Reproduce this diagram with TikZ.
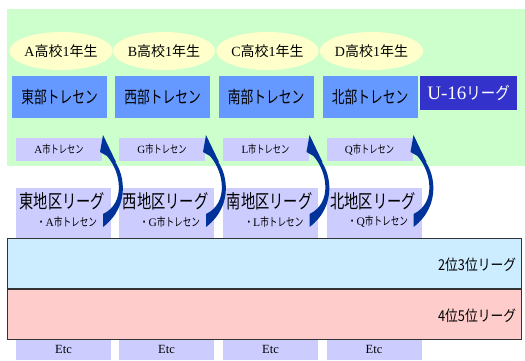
\documentclass[tikz,border=0pt]{standalone}
\usepackage{fontspec}
\usetikzlibrary{shapes.geometric}
\setmainfont{Liberation Serif}
\newfontfamily\jp[FakeStretch=0.85]{Noto Sans CJK JP}
\newfontfamily\jpc[FakeStretch=0.75]{Noto Sans CJK JP}
\newfontfamily\jpw{Noto Sans CJK JP}
\definecolor{bggreen}{HTML}{CCFFCC}
\definecolor{ellyellow}{HTML}{FFFFCC}
\definecolor{boxblue}{HTML}{6699FF}
\definecolor{u16blue}{HTML}{3333CC}
\definecolor{lav}{HTML}{CCCCFF}
\definecolor{bandblue}{HTML}{CCECFF}
\definecolor{bandpink}{HTML}{FFCCCC}
\definecolor{arrowblue}{HTML}{003399}
\definecolor{edgegray}{HTML}{333333}
\newcommand{\fs}[1]{\fontsize{#1}{#1}\selectfont}
\begin{document}
\begin{tikzpicture}[x=1pt,y=-1pt,
  base/.style={inner sep=0pt,outer sep=0pt},
  ellbox/.style={base,ellipse,fill=ellyellow,minimum width=98pt,minimum height=38pt},
  bigbox/.style={base,rectangle,fill=boxblue,minimum width=95pt,minimum height=42pt,font=\jpc\fs{17}},
  u16box/.style={base,rectangle,fill=u16blue,minimum width=97pt,minimum height=34pt,text=white},
  smallbox/.style={base,rectangle,fill=lav,minimum width=86pt,minimum height=23pt,font=\jpc\fs{11}},
  lowbox/.style={base,rectangle,fill=lav,minimum width=95pt,minimum height=50pt},
  etcbox/.style={base,rectangle,fill=lav,minimum width=95pt,minimum height=21pt,font=\fs{12.5}},
  bandtext/.style={base,anchor=east,font=\jp\fs{15}},
  curvearrow/.style={fill=arrowblue}
]
\useasboundingbox (0,0) rectangle (525,360);
\coordinate (origin) at (0,0);
% green area
\fill[bggreen] (7,9) rectangle (525,166);
% ellipses
\node[ellbox] (e1) at (61,51)    {\fs{14}A{\jpw 高校}1{\jpw 年生}};
\node[ellbox] (e2) at (164,51)   {\fs{14}B{\jpw 高校}1{\jpw 年生}};
\node[ellbox] (e3) at (267.5,51) {\fs{14}C{\jpw 高校}1{\jpw 年生}};
\node[ellbox] (e4) at (371.5,51) {\fs{14}D{\jpw 高校}1{\jpw 年生}};
% blue boxes
\node[bigbox] (b1) at (59.5,97) {東部トレセン};
\node[bigbox] (b2) at (162.5,97) {西部トレセン};
\node[bigbox] (b3) at (266,97) {南部トレセン};
\node[bigbox] (b4) at (370,97) {北部トレセン};
\node[u16box] (u16) at (468.5,93) {\fs{19}U-16{\jp\fs{17}リーグ}};
% small city boxes
\node[smallbox] (s1) at (59,149.5) {\rmfamily A{\jpc 市トレセン}};
\node[smallbox] (s2) at (162,149.5) {\rmfamily G{\jpc 市トレセン}};
\node[smallbox] (s3) at (265.5,149.5) {\rmfamily L{\jpc 市トレセン}};
\node[smallbox] (s4) at (369.5,149.5) {\rmfamily Q{\jpc 市トレセン}};
% lower league boxes
\node[lowbox] (l1) at (63.5,213) {};
\node[lowbox] (l2) at (166.5,213) {};
\node[lowbox] (l3) at (270.5,213) {};
\node[lowbox] (l4) at (374,213) {};
\node[base,font=\jpc\fs{19}] (lt1) at (62.5,201) {東地区リーグ};
\node[base,font=\jpc\fs{19}] (lt2) at (165.5,201) {西地区リーグ};
\node[base,font=\jpc\fs{19}] (lt3) at (269.5,201) {南地区リーグ};
\node[base,font=\jpc\fs{19}] (lt4) at (373,201) {北地区リーグ};
\node[base,font=\jpc\fs{11.5}] (ls1) at (67,222) {・{\rmfamily A}市トレセン};
\node[base,font=\jpc\fs{11.5}] (ls2) at (170,222) {・{\rmfamily G}市トレセン};
\node[base,font=\jpc\fs{11.5}] (ls3) at (274,222) {・{\rmfamily L}市トレセン};
\node[base,font=\jpc\fs{11.5}] (ls4) at (378,222) {・{\rmfamily Q}市トレセン};
% etc boxes
\node[etcbox] (c1) at (63.5,349.5) {Etc};
\node[etcbox] (c2) at (166.5,349.5) {Etc};
\node[etcbox] (c3) at (270.5,349.5) {Etc};
\node[etcbox] (c4) at (374,349.5) {Etc};
% bands
\node[base,rectangle,fill=bandblue,draw=edgegray,line width=0.8pt,minimum width=514pt,minimum height=51pt] (band1) at (264,263.5) {};
\node[base,rectangle,fill=bandpink,draw=edgegray,line width=0.8pt,minimum width=514pt,minimum height=50pt] (band2) at (264,314) {};
\draw[edgegray,line width=1.6pt] (band1.south west) -- (band1.south east);
\node[bandtext] (t1) at (516,265) {2位3位リーグ};
\node[bandtext] (t2) at (516,316) {4位5位リーグ};
% curved arrows from league boxes up to city boxes
\foreach \i in {1,2,3,4}{
  \begin{scope}[shift={(s\i.east |- origin)}]
    \fill[curvearrow] (1,135) -- (14,162) -- (10,158)
      .. controls (22,170) and (30,205) .. (1,227)
      -- (1,214)
      .. controls (24,203) and (19,172) .. (5,156)
      -- (-2,152) -- cycle;
  \end{scope}
}
\end{tikzpicture}
\end{document}
